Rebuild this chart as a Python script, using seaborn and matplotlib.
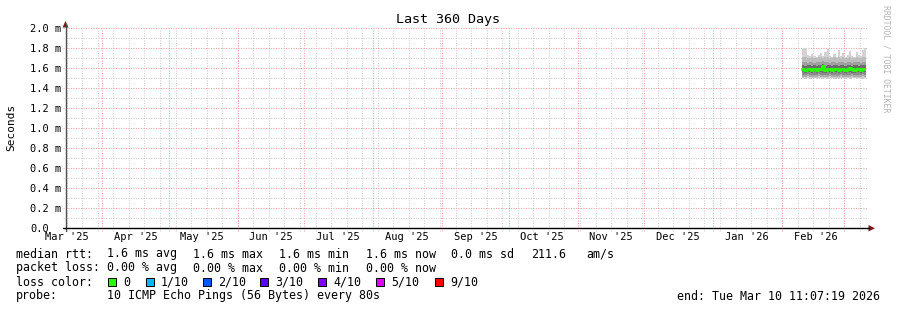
import numpy as np
import pandas as pd
import matplotlib
matplotlib.use('Agg')
import matplotlib.pyplot as plt
from matplotlib.patches import Polygon, Rectangle
from matplotlib.lines import Line2D
import seaborn as sns

sns.set_theme(style='white')
plt.rcParams['font.family'] = ['DejaVu Sans Mono', 'DejaVu Sans']

# ---------------- data ----------------
sample_days = ['2026-02-10', '2026-02-11', '2026-02-12', '2026-02-13', '2026-02-14',
               '2026-02-15', '2026-02-16', '2026-02-17', '2026-02-18', '2026-02-19',
               '2026-02-20', '2026-02-21', '2026-02-22', '2026-02-23', '2026-02-24',
               '2026-02-25', '2026-02-26', '2026-02-27', '2026-02-28', '2026-03-01',
               '2026-03-02', '2026-03-03', '2026-03-04', '2026-03-05', '2026-03-06',
               '2026-03-07', '2026-03-08', '2026-03-09', '2026-03-10']
rtt_max = [1.79, 1.80, 1.73, 1.72, 1.74, 1.72, 1.71, 1.73, 1.75, 1.72, 1.76, 1.79, 1.72, 1.71, 1.74,
           1.71, 1.78, 1.72, 1.75, 1.71, 1.73, 1.77, 1.72, 1.71, 1.76, 1.73, 1.72, 1.78, 1.80]
rtt_hi3 = [1.71, 1.71, 1.70, 1.70, 1.71, 1.70, 1.70, 1.71, 1.71, 1.70, 1.71, 1.71, 1.70, 1.70, 1.71,
           1.70, 1.71, 1.70, 1.71, 1.70, 1.70, 1.71, 1.70, 1.70, 1.71, 1.70, 1.70, 1.71, 1.71]
rtt_hi2 = [1.66, 1.66, 1.65, 1.66, 1.66, 1.65, 1.66, 1.66, 1.66, 1.67, 1.66, 1.66, 1.65, 1.66, 1.66,
           1.65, 1.66, 1.66, 1.66, 1.65, 1.66, 1.66, 1.65, 1.66, 1.66, 1.66, 1.65, 1.66, 1.66]
rtt_hi1 = [1.63, 1.62, 1.63, 1.63, 1.62, 1.63, 1.62, 1.63, 1.63, 1.64, 1.62, 1.63, 1.63, 1.62, 1.63,
           1.63, 1.62, 1.63, 1.63, 1.62, 1.63, 1.63, 1.62, 1.63, 1.63, 1.62, 1.63, 1.63, 1.63]
rtt_median = [1.59, 1.58, 1.59, 1.59, 1.58, 1.59, 1.58, 1.59, 1.59, 1.62, 1.58, 1.59, 1.59, 1.58, 1.59,
              1.59, 1.58, 1.59, 1.59, 1.58, 1.59, 1.60, 1.59, 1.58, 1.59, 1.59, 1.58, 1.59, 1.59]
rtt_lo1 = [1.56, 1.55, 1.56, 1.56, 1.55, 1.56, 1.55, 1.56, 1.56, 1.55, 1.55, 1.56, 1.56, 1.55, 1.56,
           1.56, 1.55, 1.56, 1.56, 1.55, 1.56, 1.56, 1.55, 1.55, 1.56, 1.56, 1.55, 1.56, 1.56]
rtt_lo2 = [1.53, 1.53, 1.54, 1.53, 1.53, 1.53, 1.53, 1.54, 1.53, 1.53, 1.53, 1.53, 1.54, 1.53, 1.53,
           1.53, 1.53, 1.54, 1.53, 1.53, 1.53, 1.53, 1.54, 1.53, 1.53, 1.53, 1.53, 1.54, 1.53]
rtt_lo3 = [1.51, 1.51, 1.52, 1.51, 1.51, 1.51, 1.51, 1.52, 1.51, 1.51, 1.51, 1.51, 1.52, 1.51, 1.51,
           1.51, 1.51, 1.52, 1.51, 1.51, 1.51, 1.51, 1.52, 1.51, 1.51, 1.51, 1.51, 1.52, 1.51]
rtt_min = [1.50, 1.49, 1.50, 1.49, 1.50, 1.50, 1.49, 1.50, 1.50, 1.49, 1.50, 1.49, 1.50, 1.50, 1.49,
           1.50, 1.49, 1.50, 1.50, 1.49, 1.50, 1.49, 1.50, 1.50, 1.49, 1.50, 1.50, 1.49, 1.50]

y_ticks = [0.0, 0.2, 0.4, 0.6, 0.8, 1.0, 1.2, 1.4, 1.6, 1.8, 2.0]
y_tick_labels = ['0.0', '0.2 m', '0.4 m', '0.6 m', '0.8 m', '1.0 m', '1.2 m', '1.4 m',
                 '1.6 m', '1.8 m', '2.0 m']
month_labels = ["Mar '25", "Apr '25", "May '25", "Jun '25", "Jul '25", "Aug '25",
                "Sep '25", "Oct '25", "Nov '25", "Dec '25", "Jan '26", "Feb '26"]
month_starts = ['2025-03-01', '2025-04-01', '2025-05-01', '2025-06-01', '2025-07-01', '2025-08-01',
                '2025-09-01', '2025-10-01', '2025-11-01', '2025-12-01', '2026-01-01', '2026-02-01',
                '2026-03-01']
end_time = pd.Timestamp('2026-03-10 11:07:19')
span_days = 360

loss_labels = ['0', '1/10', '2/10', '3/10', '4/10', '5/10', '9/10']
loss_colors = ['#26ff00', '#00b8ff', '#0059ff', '#5e00ff', '#7e00ff', '#dd00ff', '#ff0000']

title = 'Last 360 Days'
rtt_items = ['1.6 ms avg', '1.6 ms max', '1.6 ms min', '1.6 ms now', '0.0 ms sd', '211.6', 'am/s']
loss_items = ['0.00 % avg', '0.00 % max', '0.00 % min', '0.00 % now']
probe_text = '10 ICMP Echo Pings (56 Bytes) every 80s'
end_text = 'end: Tue Mar 10 11:07:19 2026'

# ---------------- figure ----------------
W, H = 897, 310
fig = plt.figure(figsize=(W / 100, H / 100), dpi=100, facecolor='white')

def fx(px):
    return px / W

def fy(py):
    return 1 - py / H

X0, X1, Y0, Y1 = 65.5, 865.5, 28.3, 228.3
ax = fig.add_axes([fx(X0), fy(Y1), (X1 - X0) / W, (Y1 - Y0) / H])
ax.set_facecolor('white')
start_time = end_time - pd.Timedelta(days=span_days)
ax.set_xlim(start_time, end_time)
ax.set_ylim(0, 2.0)
for s in ax.spines.values():
    s.set_visible(False)

# grid
dot = (0, (1, 1.4))
ext_x = 2.5 / (X1 - X0)
ext_y = 2.5 / (Y1 - Y0)
for i in range(1, 21):
    v = i / 10
    major = (i % 2 == 0)
    ax.axhline(v, xmin=-ext_x, xmax=1 + ext_x, clip_on=False,
               color='#f2a6a6' if major else '#cfcfcf', lw=0.75, ls=dot, zorder=0.6 if major else 0.5)
weeks = pd.date_range(start_time.normalize(), end_time, freq='W-SUN')
for d in weeks:
    if d > start_time:
        ax.axvline(d, ymin=-ext_y, ymax=1, clip_on=False, color='#cfcfcf', lw=0.75, ls=dot, zorder=0.5)
for m in month_starts:
    d = pd.Timestamp(m)
    if start_time < d < end_time:
        ax.axvline(d, ymin=-ext_y, ymax=1, clip_on=False, color='#f2a6a6', lw=0.75, ls=dot, zorder=0.6)

# smoke
t = pd.to_datetime(sample_days)
t_ext = list(t) + [end_time]
def ext(a):
    return list(a) + [a[-1]]
layers = [(rtt_hi3, rtt_max, '#d3d3d3'), (rtt_hi2, rtt_hi3, '#bdbdbd'), (rtt_hi1, rtt_hi2, '#a0a0a0'),
          (rtt_lo1, rtt_hi1, '#6c6c6c'), (rtt_lo2, rtt_lo1, '#8c8c8c'), (rtt_lo3, rtt_lo2, '#ababab'),
          (rtt_min, rtt_lo3, '#cdcdcd')]
for lo, hi, c in layers:
    ax.fill_between(t_ext, ext(lo), ext(hi), step='post', color=c, lw=0, zorder=1)

df = pd.DataFrame({'time': t_ext, 'median': ext(rtt_median)})
sns.lineplot(data=df, x='time', y='median', ax=ax, color='#26ff00', lw=2.2,
             drawstyle='steps-post', zorder=3)

# ticks
ax.set_yticks(y_ticks)
ax.set_yticklabels(y_tick_labels)
ax.tick_params(axis='y', length=0, pad=(X0 - 30) * 0.72, labelsize=7.5, labelcolor='#000000')
for lab in ax.get_yticklabels():
    lab.set_horizontalalignment('left')
mid_months = [pd.Timestamp(m) + pd.Timedelta(days=15) for m in month_starts[:-1]]
ax.set_xticks(mid_months)
ax.set_xticklabels(month_labels)
ax.tick_params(axis='x', length=0, pad=3.0, labelsize=7.5, labelcolor='#000000')
ax.set_xlabel('')
ax.set_ylabel('')

# axes lines and arrows
fig.add_artist(Line2D([fx(X0), fx(X0)], [fy(Y1 + 2.5), fy(24)], color='#505050', lw=1.0))
fig.add_artist(Line2D([fx(X0 - 3), fx(869)], [fy(Y1), fy(Y1)], color='#000000', lw=1.0))
fig.add_artist(Polygon([[fx(62.5), fy(27.5)], [fx(68.5), fy(27.5)], [fx(65.5), fy(21)]],
                       closed=True, transform=fig.transFigure, color='#7a1a1a', lw=0))
fig.add_artist(Polygon([[fx(868.5), fy(225)], [fx(868.5), fy(231.5)], [fx(875), fy(228.3)]],
                       closed=True, transform=fig.transFigure, color='#7a1a1a', lw=0))

# texts
fig.text(fx(448), fy(19), title, ha='center', va='center', fontsize=9.6, color='#000000')
fig.text(fx(11), fy(127), 'Seconds', rotation=90, ha='center', va='center', fontsize=8, color='#000000')
fig.text(fx(886), fy(59), 'RRDTOOL / TOBI OETIKER', rotation=270, ha='center', va='center',
         fontsize=5.9, color='#b4b4b4')

fs = 8.4
txt = dict(fontsize=fs, va='center', ha='left', color='#000000')
fig.text(fx(16), fy(254), 'median rtt:', **txt)
for s, x in zip(rtt_items, [107.3, 193.3, 279.3, 365.7, 451, 530.7, 586.7]):
    fig.text(fx(x), fy(254), s, **txt)
fig.text(fx(16), fy(268), 'packet loss:', **txt)
for s, x in zip(loss_items, [107.3, 193.3, 279.3, 365.7]):
    fig.text(fx(x), fy(268), s, **txt)
fig.text(fx(16), fy(282), 'loss color:', **txt)
for lab, col, x in zip(loss_labels, loss_colors, [108, 146, 203, 260, 318, 376, 435]):
    fig.add_artist(Rectangle((fx(x), fy(286)), 8 / W, 8 / H, transform=fig.transFigure,
                             facecolor=col, edgecolor='black', lw=0.7))
    fig.text(fx(x + 15), fy(282), lab, **txt)
fig.text(fx(16), fy(296), 'probe:', **txt)
fig.text(fx(107.3), fy(296), probe_text, **txt)
fig.text(fx(880), fy(296), end_text, fontsize=fs, va='center', ha='right', color='#000000')

fig.savefig('out.png', dpi=100, facecolor='white')
